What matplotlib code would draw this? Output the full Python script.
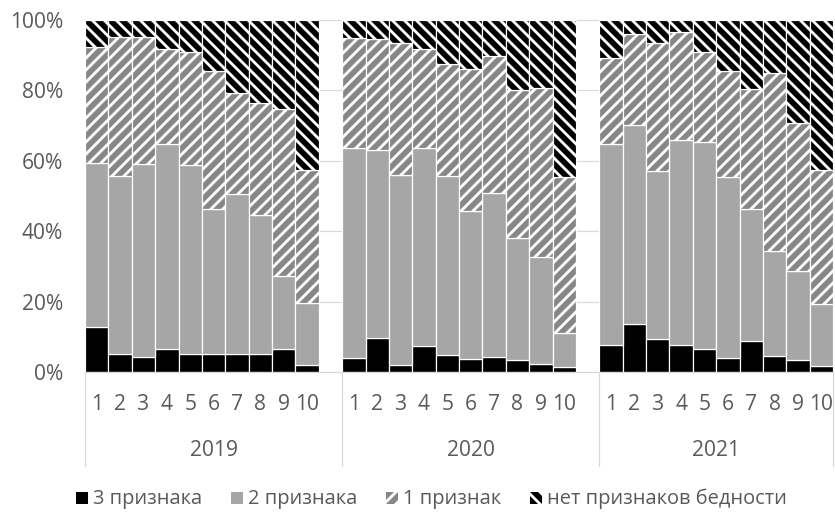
import matplotlib.pyplot as plt
import matplotlib.transforms as mtransforms
from matplotlib.patches import Patch
from matplotlib.ticker import FuncFormatter
import numpy as np

# shares of households, %
years = ['2019', '2020', '2021']
deciles = ['1', '2', '3', '4', '5', '6', '7', '8', '9', '10']
series_names = ['3 признака', '2 признака', '1 признак', 'нет признаков бедности']

three_signs = [12.7, 5.0, 4.3, 6.4, 5.0, 5.0, 5.0, 5.0, 6.5, 1.9,
               4.1, 9.8, 2.1, 7.5, 4.8, 3.7, 4.4, 3.5, 2.4, 1.3,
               7.6, 13.5, 9.3, 7.8, 6.5, 4.0, 8.9, 4.5, 3.3, 1.7]
two_signs = [46.7, 50.6, 54.8, 58.5, 53.7, 41.3, 45.6, 39.7, 20.9, 17.6,
             59.6, 53.4, 54.0, 56.2, 50.8, 41.9, 46.5, 34.5, 30.4, 9.8,
             57.3, 56.8, 47.9, 58.1, 58.9, 51.3, 37.5, 30.0, 25.4, 17.6]
one_sign = [32.8, 39.6, 36.1, 27.0, 32.3, 39.2, 28.8, 31.6, 47.2, 38.0,
            31.1, 31.4, 37.3, 28.0, 31.9, 40.4, 38.9, 42.1, 48.0, 44.2,
            24.2, 25.7, 36.4, 30.6, 25.6, 30.2, 33.9, 50.4, 42.1, 38.0]
no_signs = [7.8, 4.8, 4.8, 8.1, 9.0, 14.5, 20.6, 23.7, 25.4, 42.5,
            5.2, 5.4, 6.6, 8.3, 12.5, 14.0, 10.2, 19.9, 19.2, 44.7,
            10.9, 4.0, 6.4, 3.5, 9.0, 14.5, 19.7, 15.1, 29.2, 42.7]

colors = ['#000000', '#a6a6a6', '#878787', '#000000']
hatches = [None, None, '//', '\\\\']
text_color = '#595959'
grid_color = '#d9d9d9'

DPI = 72
plt.rcParams['font.family'] = ['Open Sans', 'DejaVu Sans']
plt.rcParams['hatch.linewidth'] = 2.8


def plot_data():
    fig = plt.figure(figsize=(835 / DPI, 513 / DPI), dpi=DPI)
    ax = fig.add_axes([85 / 835, 1 - 372 / 513, 748 / 835, 352 / 513])

    n = len(deciles)
    # one empty slot between years
    x = np.concatenate([np.arange(n) + g * (n + 1) for g in range(len(years))])

    values = [three_signs, two_signs, one_sign, no_signs]
    bottom = np.zeros(len(x))
    for vals, name, c, h in zip(values, series_names, colors, hatches):
        vals = np.array(vals)
        ax.bar(x, vals, width=1.0, bottom=bottom, color=c, edgecolor='white',
               linewidth=1.2, hatch=h, label=name, zorder=2)
        bottom += vals

    ax.set_xlim(-0.5, x[-1] + 0.5)
    ax.set_ylim(0, 100)
    ax.yaxis.set_major_locator(plt.MultipleLocator(20))
    ax.yaxis.set_major_formatter(FuncFormatter(lambda v, p: '%d%%' % v))
    ax.yaxis.grid(True, color=grid_color, linewidth=1.2, zorder=0)
    ax.set_axisbelow(True)
    for s in ['top', 'right', 'left']:
        ax.spines[s].set_visible(False)
    ax.spines['bottom'].set_color(grid_color)
    ax.spines['bottom'].set_linewidth(1.2)
    ax.tick_params(axis='y', length=0, pad=22, labelsize=21, labelcolor=text_color)

    ax.set_xticks(x)
    ax.set_xticklabels(deciles * len(years))
    ax.tick_params(axis='x', length=0, pad=22, labelsize=21, labelcolor=text_color)

    # year labels and separators of the category axis
    trans = mtransforms.blended_transform_factory(ax.transData, ax.transAxes)
    edges = [-0.5] + [g * (n + 1) - 0.5 for g in range(1, len(years))] + [x[-1] + 0.5]
    for i, year in enumerate(years):
        ax.text((edges[i] + edges[i + 1]) / 2, -0.222, year, transform=trans,
                ha='center', va='center', fontsize=21, color=text_color)
    for e in edges:
        ax.plot([e, e], [0, -0.267], transform=trans, color=grid_color,
                linewidth=1.2, clip_on=False)

    handles = [Patch(facecolor=c, edgecolor='white', hatch=h, label=name)
               for c, h, name in zip(colors, hatches, series_names)]
    fig.legend(handles=handles, loc='center', bbox_to_anchor=(431 / 835, 1 - 499 / 513),
               ncol=4, frameon=False, fontsize=20, labelcolor=text_color,
               handlelength=0.65, handleheight=0.6, handletextpad=0.25,
               columnspacing=1.4, borderpad=0)

    plt.savefig('out.png', dpi=DPI)


if __name__ == "__main__":
    plot_data()
